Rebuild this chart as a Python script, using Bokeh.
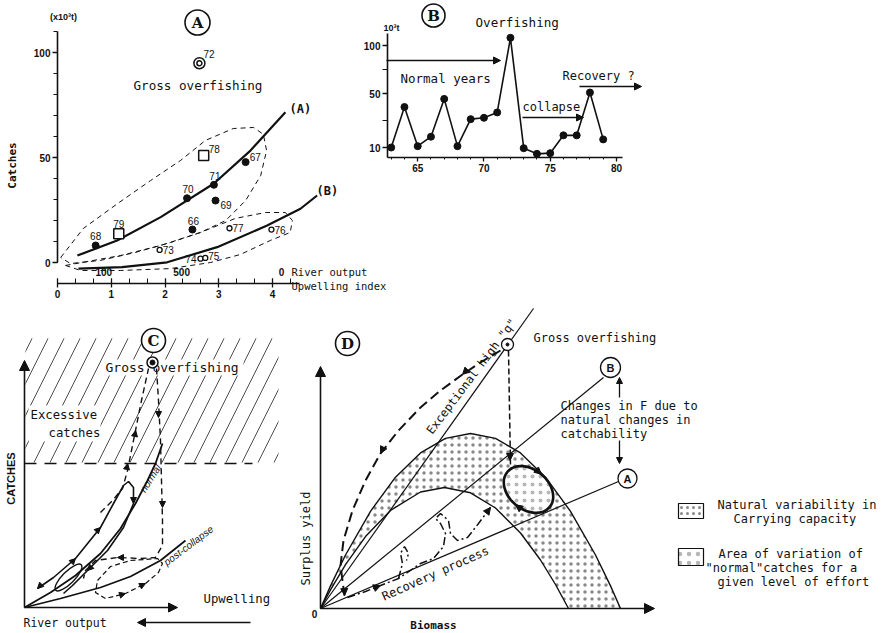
import numpy as np
from bokeh.plotting import figure
from bokeh.models import Range1d, LinearAxis, FixedTicker, SingleIntervalTicker, Arrow, NormalHead
from bokeh.core.properties import value
from bokeh.embed import file_html
from bokeh.resources import INLINE

# ---------------- Panel A : catches (x10^3 t) vs upwelling index ----------------
a_fill_lab = ["66", "67", "68", "69", "70", "71"]
a_fill_x = [2.51, 3.50, 0.71, 2.94, 2.41, 2.91]
a_fill_y = [15.7, 47.8, 8.1, 29.5, 30.6, 37.0]
a_open_lab = ["73", "74", "75", "76", "77"]
a_open_x = [1.90, 2.66, 2.75, 3.98, 3.20]
a_open_y = [6.0, 1.8, 2.2, 15.7, 16.3]
a_sq_lab = ["78", "79"]
a_sq_x = [2.72, 1.14]
a_sq_y = [51.0, 13.7]
a_over_lab = ["72"]
a_over_x = [2.64]
a_over_y = [94.9]
a_curveA_x = [0.37, 1.11, 1.92, 2.91, 3.59, 4.24]
a_curveA_y = [3.3, 10.5, 21.6, 37.6, 53.3, 71.6]
a_curveB_x = [0.39, 1.20, 2.04, 2.97, 3.90, 4.52, 4.83]
a_curveB_y = [-2.9, -2.2, 0.1, 7.3, 17.6, 25.6, 31.9]
a_envA_x = [0.06, 0.48, 1.12, 1.73, 2.29, 2.75, 3.27, 3.65, 3.83, 3.89, 3.78, 3.50, 3.13, 2.66, 2.10, 1.45, 0.80, 0.24, 0.06]
a_envA_y = [2.4, 16.2, 28.1, 39.0, 48.6, 58.1, 63.8, 64.3, 61.0, 53.3, 41.4, 29.5, 20.0, 14.3, 9.5, 4.8, 1.0, -0.5, 2.4]
a_envB_x = [0.15, 1.17, 1.92, 2.66, 3.31, 3.87, 4.24, 4.37, 4.33, 3.96, 3.40, 2.85, 2.10, 1.17, 0.43, 0.15]
a_envB_y = [-1.4, 3.3, 8.1, 14.3, 21.0, 23.8, 23.8, 20.0, 14.3, 10.5, 3.8, 0.0, -2.9, -3.8, -3.8, -1.4]
a_river_ticks = [0.86, 2.31, 4.17]
a_river_labels = ["100", "500", "0"]

# ---------------- Panel B : catches by year ----------------
b_years = list(range(63, 80))
b_catch = [10, 40, 11, 18, 46, 11, 31, 32, 36, 108, 9.5, 5.3, 5.8, 19, 19, 51, 16]
b_xticks = [65, 70, 75, 80]
b_ylabels = [10, 50, 100]
b_yminor = [30, 75]
# hand-drawn broken y scale of the original (catch value -> axis position)
b_scale_v = [0, 50, 200]
b_scale_p = [0, 67.5, 211.5]

# ---------------- Panel C : schematic catches vs environment ----------------
c_normal_x = [0, 26, 51, 76, 96, 111, 123, 131, 138]
c_normal_y = [0, 15, 32, 54, 79, 104, 127, 144, 164]
c_loop_x = [13, 29, 51, 76, 89, 99, 104, 109, 109, 99, 83, 63, 48, 39]
c_loop_y = [19, 30, 49, 80, 104, 122, 126, 120, 104, 80, 57, 37, 22, 14]
c_post_x = [0, 36, 76, 106, 136, 161]
c_post_y = [0, 9, 20, 31, 47, 67]
c_up_x = [76, 88, 98, 103, 106, 111, 117, 124]
c_up_y = [95, 107, 119, 137, 152, 177, 207, 239]
c_down_x = [132, 134, 136, 137, 138, 138, 131, 116, 93, 71, 61, 59]
c_down_y = [239, 207, 167, 127, 87, 62, 50, 49, 50, 47, 37, 29]
c_pcl_x = [73, 86, 106, 133, 138, 134, 121, 101, 81, 71, 73]
c_pcl_y = [27, 41, 47, 49, 44, 35, 24, 14, 9, 15, 27]
c_over = (128, 245)

# ---------------- Panel D : surplus yield vs biomass ----------------
d_inner_x = [0, 10, 25, 45, 70, 100, 124, 150, 175, 200, 220, 235, 248]
d_inner_y = [0, 18.7, 43.9, 71.9, 98.1, 116.5, 121, 115.7, 100.5, 75.5, 48.5, 24.0, 0]
d_outer_x = [0, 10, 25, 50, 75, 100, 125, 150, 175, 200, 225, 250, 275, 290, 300]
d_outer_y = [0, 22.6, 53.5, 97.2, 131.3, 155.6, 170.1, 175, 170.1, 155.6, 131.3, 97.2, 53.5, 22.6, 0]
d_qline = ([0, 213], [0, 300])
d_Bline = ([0, 283], [0, 231])
d_Aline = ([0, 298], [0, 127])
d_over = (187, 264)
d_fall_x = [180, 160, 142, 120, 100, 78, 60, 45, 32, 23, 20, 24]
d_fall_y = [258, 246, 234, 218, 201, 178, 155, 128, 98, 68, 43, 13]
d_vert_x = [188, 190]
d_vert_y = [258, 143]
d_rec_x = [27, 45, 60, 78, 90, 100, 113, 123, 125, 120, 115, 120, 128, 130, 137, 147, 158, 170]
d_rec_y = [11, 17, 23, 30, 38, 45, 50, 62, 75, 85, 90, 95, 88, 75, 68, 71, 85, 101]
d_rec2_x = [78, 82, 80, 84, 88, 86]
d_rec2_y = [30, 45, 55, 62, 55, 48]
d_ell = (208, 119, 55, 40, -40)

INK = "#111111"
MONO = "DejaVu Sans Mono"
SANS = "Liberation Sans"
W, H = 885, 633

p = figure(width=W, height=H, x_range=Range1d(0, W), y_range=Range1d(H, 0),
           x_axis_type=None, y_axis_type=None, toolbar_location=None,
           output_backend="svg", min_border=0, outline_line_color=None,
           background_fill_color="white", border_fill_color="white")


def xr(v0, p0, s):
    return Range1d(v0 - p0 / s, v0 + (W - p0) / s)


def yr(v0, p0, s):
    return Range1d(v0 - (H - p0) / s, v0 + p0 / s)


p.extra_x_ranges = {"ax": xr(0, 57, 53.75), "bx": xr(63, 390.7, 13.25),
                    "cx": xr(0, 24, 1), "dx": xr(0, 320, 1)}
p.extra_y_ranges = {"ay": yr(0, 262, 2.1), "by": yr(0, 160.5, 1),
                    "cy": yr(0, 607, 1), "dy": yr(0, 608, 1)}


def R(k):
    return dict(x_range_name=k + "x", y_range_name=k + "y")


def txt(x, y, s, size=12, font=MONO, align="left", angle=0, style="normal", rng=None, xo=0, yo=0, base="middle"):
    kw = R(rng) if rng else {}
    p.text(x=[x], y=[y], text=[s], text_font=value(font), text_font_size=f"{size}px",
           text_align=align, text_baseline=base, angle=angle, angle_units="deg",
           text_font_style=style, text_color=INK, x_offset=xo, y_offset=yo, **kw)


def arrow(x0, y0, x1, y1, rng=None, size=8, lw=1.3, dash="solid", show_line=True):
    kw = R(rng) if rng else {}
    p.add_layout(Arrow(end=NormalHead(size=size, fill_color=INK, line_color=INK, line_width=1),
                       x_start=x0, y_start=y0, x_end=x1, y_end=y1, line_width=lw,
                       line_color=INK, line_dash=dash, line_alpha=1 if show_line else 0, **kw))


def head(x0, y0, x1, y1, rng, size=7):
    arrow(x0, y0, x1, y1, rng=rng, size=size, show_line=False)


def circ_letter(x, y, s, size=24, fsize=15, font="DejaVu Serif", lw=1.6):
    p.scatter([x], [y], marker="circle", size=size, fill_color="white", line_color=INK, line_width=lw)
    txt(x, y + 0.5, s, size=fsize, font=font, align="center", style="bold")


# ====================== Panel A ======================
p.line(a_envA_x, a_envA_y, line_color=INK, line_width=1, line_dash="5 4", **R("a"))
p.line(a_envB_x, a_envB_y, line_color=INK, line_width=1, line_dash="5 4", **R("a"))
p.line(a_curveA_x, a_curveA_y, line_color=INK, line_width=2.2, **R("a"))
p.line(a_curveB_x, a_curveB_y, line_color=INK, line_width=2.2, **R("a"))
p.scatter(a_fill_x, a_fill_y, marker="circle", size=7, color=INK, **R("a"))
p.scatter(a_open_x, a_open_y, marker="circle", size=5, fill_color="white", line_color=INK, line_width=1.3, **R("a"))
p.scatter(a_sq_x, a_sq_y, marker="square", size=10, fill_color="white", line_color=INK, line_width=1.5, **R("a"))
p.scatter(a_over_x, a_over_y, marker="circle", size=11, fill_color="white", line_color=INK, line_width=1.5, **R("a"))
p.scatter(a_over_x, a_over_y, marker="circle", size=5, fill_color="white", line_color=INK, line_width=1.5, **R("a"))

lab_style = {  # label placement around each point: (align, x offset, y offset)
    "66": ("center", 1, -9), "67": ("left", 4, -5), "68": ("center", 0, -9), "69": ("left", 5, 4),
    "70": ("center", 1, -9), "71": ("center", 1, -9), "72": ("left", 4, -9), "73": ("left", 3, 0),
    "74": ("right", -4, 0), "75": ("left", 3, -2), "76": ("left", 3, 0), "77": ("left", 3, 0),
    "78": ("left", 5, -6), "79": ("center", 0, -10),
}
for labs, xs, ys in [(a_fill_lab, a_fill_x, a_fill_y), (a_open_lab, a_open_x, a_open_y),
                     (a_sq_lab, a_sq_x, a_sq_y), (a_over_lab, a_over_x, a_over_y)]:
    for l, x, y in zip(labs, xs, ys):
        al, xo, yo = lab_style[l]
        txt(x, y, l, size=10, font=SANS, align=al, rng="a", xo=xo, yo=yo)

ax_y = LinearAxis(x_range_name="ax", y_range_name="ay", fixed_location=0, bounds=(0, 110),
                  ticker=SingleIntervalTicker(interval=50, num_minor_ticks=5))
ax_up = LinearAxis(x_range_name="ax", y_range_name="ay", fixed_location=-10, bounds=(0, 4.5),
                   ticker=SingleIntervalTicker(interval=1, num_minor_ticks=3))
ax_riv = LinearAxis(x_range_name="ax", y_range_name="ay", fixed_location=-2.5,
                    ticker=FixedTicker(ticks=a_river_ticks),
                    major_label_overrides={t: s for t, s in zip(a_river_ticks, a_river_labels)})
by_ticks = [float(np.interp(v, b_scale_v, b_scale_p)) for v in b_ylabels]
by_minor = [float(np.interp(v, b_scale_v, b_scale_p)) for v in b_yminor]
b_pos = np.interp(b_catch, b_scale_v, b_scale_p)
ax_by = LinearAxis(x_range_name="bx", y_range_name="by", fixed_location=62.72, bounds=(3.5, 127.5),
                   ticker=FixedTicker(ticks=by_ticks, minor_ticks=by_minor),
                   major_label_overrides={t: str(v) for t, v in zip(by_ticks, b_ylabels)})
ax_bx = LinearAxis(x_range_name="bx", y_range_name="by", fixed_location=3.5, bounds=(62.72, 80.46),
                   ticker=FixedTicker(ticks=b_xticks, minor_ticks=list(range(63, 81))))
for ax in [ax_y, ax_up, ax_riv, ax_by, ax_bx]:
    ax.axis_line_color = INK
    ax.axis_line_width = 1.6
    ax.major_tick_line_color = INK
    ax.minor_tick_line_color = INK
    ax.major_tick_line_width = 1.3
    ax.major_label_text_font = SANS
    ax.major_label_text_font_style = "bold"
    ax.major_label_text_font_size = "10px"
    ax.major_label_text_color = INK
    ax.major_label_standoff = 2
ax_y.major_tick_in, ax_y.major_tick_out, ax_y.minor_tick_in, ax_y.minor_tick_out = 0, 5, 0, 4
ax_up.major_tick_in, ax_up.major_tick_out, ax_up.minor_tick_in, ax_up.minor_tick_out = 5, 4, 5, 0
ax_riv.axis_line_alpha = 0
ax_riv.major_tick_line_alpha = 0
ax_riv.minor_tick_line_alpha = 0
ax_riv.major_tick_in, ax_riv.major_tick_out, ax_riv.minor_tick_in, ax_riv.minor_tick_out = 0, 0, 0, 0
ax_riv.major_label_standoff = 0
ax_by.major_tick_in, ax_by.major_tick_out, ax_by.minor_tick_in, ax_by.minor_tick_out = 0, 5, 0, 5
ax_bx.major_tick_in, ax_bx.major_tick_out, ax_bx.minor_tick_in, ax_bx.minor_tick_out = 0, 4, 0, 2
p.add_layout(ax_y, "left")
p.add_layout(ax_by, "left")
p.add_layout(ax_riv, "below")
p.add_layout(ax_up, "below")
p.add_layout(ax_bx, "below")

circ_letter(197, 22, "A", size=25)
txt(63, 16, "(x10³t)", size=9, font=SANS, align="center", style="bold")
txt(12, 165, "Catches", size=11, angle=90, align="center", style="bold")
txt(133, 85, "Gross overfishing", size=12.6)
txt(289, 108, "(A)", size=12, style="bold")
txt(316, 190, "(B)", size=12, style="bold")
txt(291, 271, "River output", size=10.5)
txt(291, 285, "Upwelling index", size=10.5)

# ====================== Panel B ======================
p.line(b_years, b_pos, line_color=INK, line_width=1.6, **R("b"))
p.scatter(b_years, b_pos, marker="circle", size=7, color=INK, **R("b"))
circ_letter(433, 15, "B", size=23)
txt(383, 27, "10³t", size=9, font=SANS, style="bold")
txt(475, 22, "Overfishing", size=12.6)
txt(400, 78, "Normal years", size=12.5)
txt(522, 106, "collapse", size=12)
txt(562, 75, "Recovery ?", size=12)
arrow(386, 60, 500, 60, size=7)
arrow(522, 117, 583, 117, size=7)
arrow(579, 86, 641, 86, size=7)

# ====================== Panel C ======================
p.quad(left=[25], right=[278], top=[338], bottom=[462], fill_alpha=0, line_alpha=0,
       hatch_pattern="/", hatch_scale=32, hatch_weight=1, hatch_color=INK, hatch_alpha=0.75)
p.quad(left=[28, 103], right=[100, 243], top=[405, 359], bottom=[441, 375], color="white", line_alpha=0)
p.line([24, 252], [463, 463], line_color=INK, line_width=1.5, line_dash="12 8")
txt(30, 414, "Excessive", size=12.3)
txt(48, 432, "catches", size=12.3)
txt(105, 367, "Gross overfishing", size=13)
circ_letter(153, 340, "C", size=24)
txt(10, 478, "CATCHES", size=11, font=SANS, angle=90, align="center", style="bold")
txt(203, 598, "Upwelling", size=12.3)
txt(23, 622, "River output", size=11.5)
arrow(24, 607, 24, 360, size=10, lw=1.6)
arrow(24, 607, 177, 607, size=9, lw=1.6)
arrow(250, 622, 137, 622, size=8, lw=1.3)

p.line(c_normal_x, c_normal_y, line_color=INK, line_width=1.8, **R("c"))
p.line(c_loop_x, c_loop_y, line_color=INK, line_width=1.6, **R("c"))
p.line(c_post_x, c_post_y, line_color=INK, line_width=1.8, **R("c"))
p.line(c_up_x, c_up_y, line_color=INK, line_width=1.4, line_dash="6 4", **R("c"))
p.line(c_down_x, c_down_y, line_color=INK, line_width=1.4, line_dash="6 4", **R("c"))
p.line(c_pcl_x, c_pcl_y, line_color=INK, line_width=1.2, line_dash="5 3", **R("c"))
p.ellipse(x=[44], y=[30], width=[36], height=[12], angle=45, angle_units="deg",
          fill_alpha=0, line_color=INK, line_width=1.4, **R("c"))
p.scatter([c_over[0]], [c_over[1]], marker="circle", size=11, fill_color="white", line_color=INK, line_width=1.5, **R("c"))
p.scatter([c_over[0]], [c_over[1]], marker="circle", size=5, color=INK, **R("c"))
for (x0, y0, x1, y1) in [(14, 20, 13, 19), (50, 48, 51, 49), (75, 79, 76, 80), (109, 105, 109, 104),
                         (64, 38, 63, 37), (111, 176, 111.2, 177), (103, 143, 103.2, 144),
                         (134, 191, 134, 190), (138, 101, 138, 100), (94, 50, 93, 50),
                         (100, 13.7, 101, 14), (120, 23.5, 121, 24)]:
    head(x0, y0, x1, y1, "c", size=6)
txt(150, 478, "normal", size=10, font=SANS, angle=58, align="center", style="italic")
txt(188, 545, "post-collapse", size=10, font=SANS, angle=37, align="center", style="italic")

# ====================== Panel D ======================
band_x = d_outer_x + d_inner_x[::-1]
band_y = d_outer_y + d_inner_y[::-1]
p.patch(band_x, band_y, fill_color="white", line_alpha=0, hatch_pattern="dot",
        hatch_scale=7, hatch_weight=1.0, hatch_color=INK, hatch_alpha=0.5, **R("d"))
p.line(d_outer_x, d_outer_y, line_color=INK, line_width=1.4, **R("d"))
p.line(d_inner_x, d_inner_y, line_color=INK, line_width=1.4, **R("d"))
for lx, ly in [d_qline, d_Bline, d_Aline]:
    p.line(lx, ly, line_color=INK, line_width=1.2, **R("d"))
cx_, cy_, ew, eh, ea = d_ell
p.ellipse(x=[cx_], y=[cy_], width=[ew], height=[eh], angle=ea, angle_units="deg",
          fill_color="white", line_color=INK, line_width=2.6, hatch_pattern="dot",
          hatch_scale=8, hatch_weight=0.8, hatch_color=INK, hatch_alpha=0.3, **R("d"))
p.line(d_fall_x, d_fall_y, line_color=INK, line_width=2, line_dash="10 5", **R("d"))
p.line(d_vert_x, d_vert_y, line_color=INK, line_width=1.5, line_dash="6 3", **R("d"))
p.line(d_rec_x, d_rec_y, line_color=INK, line_width=1.5, line_dash="8 3 2 3", **R("d"))
p.line(d_rec2_x, d_rec2_y, line_color=INK, line_width=1.5, line_dash="8 3 2 3", **R("d"))
p.scatter([d_over[0]], [d_over[1]], marker="circle", size=12, fill_color="white", line_color=INK, line_width=1.3, **R("d"))
p.scatter([d_over[0]], [d_over[1]], marker="circle", size=3, color=INK, **R("d"))
for (x0, y0, x1, y1) in [(143, 235, 142, 234), (61, 157, 60, 155), (24, 15, 24.1, 13),
                         (220.1, 135, 220.9, 134.3), (195.9, 103.1, 195.1, 103.7),
                         (59, 22.6, 60, 23), (169, 99.7, 170, 101), (189.5, 150, 189.5, 148)]:
    head(x0, y0, x1, y1, "d", size=7)
arrow(320, 608, 320, 366, size=10, lw=1.6)
arrow(320, 608, 654, 608, size=10, lw=1.6)
arrow(619, 397, 619, 377, size=6, lw=1.3)
arrow(619, 440, 619, 463, size=6, lw=1.3)
circ_letter(347, 343, "D", size=24)
circ_letter(610, 367, "B", size=20, fsize=11, font=SANS, lw=1.3)
circ_letter(627, 478, "A", size=19, fsize=11, font=SANS, lw=1.3)
txt(533, 337, "Gross overfishing", size=12)
txt(471, 376, "Exceptional high \"q\"", size=11.7, angle=53, align="center")
txt(560, 405, "Changes in F due to", size=12)
txt(560, 419, "natural changes in", size=12)
txt(560, 433, "catchability", size=12)
txt(305, 538, "Surplus yield", size=12, angle=90, align="center")
txt(433, 625, "Biomass", size=11, align="center", style="bold")
txt(314, 613, "0", size=10, font=SANS, align="center", style="bold")
txt(435, 573, "Recovery process", size=12, angle=24, align="center")

# legend
p.quad(left=[678], right=[703], top=[503], bottom=[518], fill_color="white", line_color=INK,
       line_width=1.2, hatch_pattern="dot", hatch_scale=6, hatch_weight=1.0, hatch_color=INK, hatch_alpha=0.5)
p.quad(left=[678], right=[703], top=[548], bottom=[565], fill_color="white", line_color=INK,
       line_width=1.2, hatch_pattern="dot", hatch_scale=9, hatch_weight=0.8, hatch_color=INK, hatch_alpha=0.3)
txt(717, 504, "Natural variability in", size=12)
txt(733, 518, "Carrying capacity", size=12)
txt(718, 553, "Area of variation of", size=12)
txt(705, 567, "\"normal\"catches for a", size=12)
txt(717, 581, "given level of effort", size=12)

open("out.html", "w").write(file_html(p, INLINE))
